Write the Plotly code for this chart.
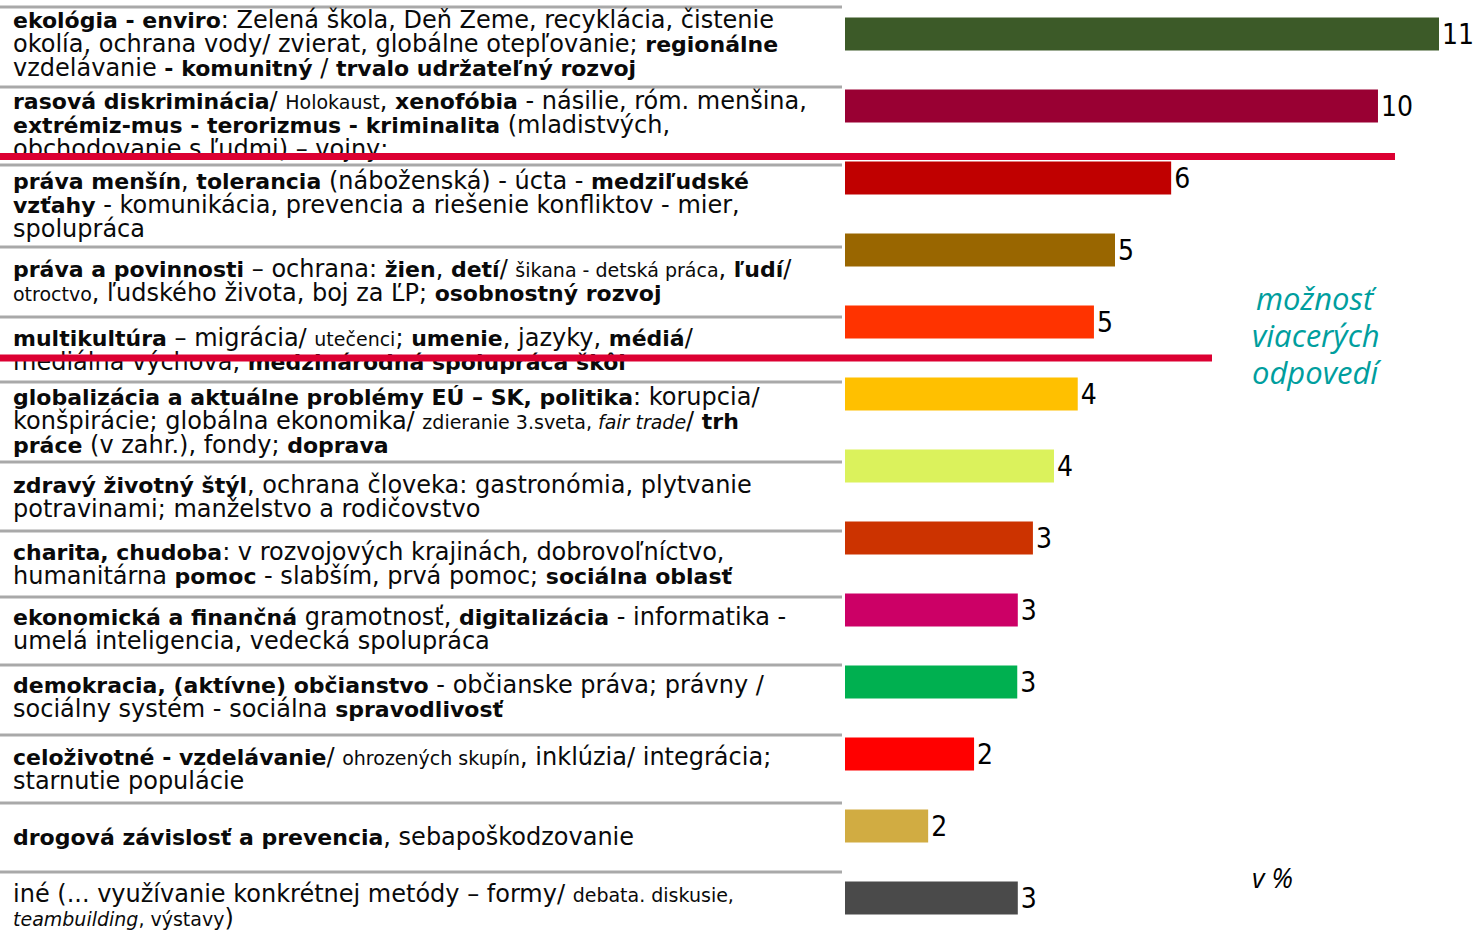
import re
import plotly.graph_objects as go

W, H = 1473, 932

# ---- data -------------------------------------------------------------
categories = [
    "ekológia - enviro",
    "rasová diskriminácia",
    "práva menšín, tolerancia",
    "práva a povinnosti",
    "multikultúra",
    "globalizácia a aktuálne problémy EÚ - SK",
    "zdravý životný štýl",
    "charita, chudoba",
    "ekonomická a finančná gramotnosť",
    "demokracia, (aktívne) občianstvo",
    "celoživotné vzdelávanie",
    "drogová závislosť a prevencia",
    "iné",
]

values = [11.0, 9.87, 6.04, 5.0, 4.61, 4.31, 3.87, 3.48, 3.2, 3.19, 2.39, 1.54, 3.2]

bar_colors = [
    "#3C5A28", "#990033", "#C00000", "#996600", "#FF3300", "#FFC000", "#DBF25C",
    "#CC3300", "#CC0066", "#00B050", "#FF0000", "#D1AC42", "#4A4A4A",
]

# {...} marks the smaller-print parts of a label
label_lines = [
    ["<b>ekológia - enviro</b>: Zelená škola, Deň Zeme, recyklácia, čistenie",
     "okolía, ochrana vody/ zvierat, globálne otepľovanie; <b>regionálne</b>",
     "vzdelávanie <b>- komunitný</b> / <b>trvalo udržateľný rozvoj</b>"],
    ["<b>rasová diskriminácia</b>/ {Holokaust}, <b>xenofóbia</b> - násilie, róm. menšina,",
     "<b>extrémiz-mus - terorizmus - kriminalita</b> (mladistvých,",
     "obchodovanie s ľudmi) – vojny;"],
    ["<b>práva menšín</b>, <b>tolerancia</b> (náboženská) - úcta - <b>medziľudské</b>",
     "<b>vzťahy</b> - komunikácia, prevencia a riešenie konfliktov - mier,",
     "spolupráca"],
    ["<b>práva a povinnosti</b> – ochrana: <b>žien</b>, <b>detí</b>/ {šikana - detská práca}, <b>ľudí</b>/",
     "{otroctvo}, ľudského života, boj za ĽP; <b>osobnostný rozvoj</b>"],
    ["<b>multikultúra</b> – migrácia/ {utečenci}; <b>umenie</b>, jazyky, <b>médiá</b>/",
     "mediálna výchova, <b>medzinárodná spolupráca škôl</b>"],
    ["<b>globalizácia a aktuálne problémy EÚ – SK, politika</b>: korupcia/",
     "konšpirácie; globálna ekonomika/ {zdieranie 3.sveta, <i>fair trade</i>}/ <b>trh</b>",
     "<b>práce</b> (v zahr.), fondy; <b>doprava</b>"],
    ["<b>zdravý životný štýl</b>, ochrana človeka: gastronómia, plytvanie",
     "potravinami; manželstvo a rodičovstvo"],
    ["<b>charita, chudoba</b>: v rozvojových krajinách, dobrovoľníctvo,",
     "humanitárna <b>pomoc</b> - slabším, prvá pomoc; <b>sociálna oblasť</b>"],
    ["<b>ekonomická a finančná</b> gramotnosť, <b>digitalizácia</b> - informatika -",
     "umelá inteligencia, vedecká spolupráca"],
    ["<b>demokracia, (aktívne) občianstvo</b> - občianske práva; právny /",
     "sociálny systém - sociálna <b>spravodlivosť</b>"],
    ["<b>celoživotné - vzdelávanie</b>/ {ohrozených skupín}, inklúzia/ integrácia;",
     "starnutie populácie"],
    ["<b>drogová závislosť a prevencia</b>, sebapoškodzovanie"],
    ["iné (... využívanie konkrétnej metódy – formy/ {debata. diskusie,}",
     "{<i>teambuilding</i>, výstavy})"],
]

note_lines = ["možnosť", "viacerých", "odpovedí"]
unit_label = "v %"

# ---- layout constants (pixels) ----------------------------------------
BAR_LEFT = 845
PX_PER_UNIT = 54.0
X_MAX = 11.5
FIRST_ROW_CENTER = 34
ROW_STEP = 72
LINE_STEP = 24
TEXT_X = 13
TEXT_FONT = "DejaVu Sans, sans-serif"
TEXT_SIZE = 24
BOLD_SIZE = 22
SMALL_SIZE = 19
NUM_FONT = "Liberation Sans Narrow, DejaVu Sans Condensed, sans-serif"
NOTE_FONT = "Open Sans, Lato, sans-serif"

row_first_center = [22, 103, 183, 271, 340, 399, 487, 554, 619, 687, 759, 839, 896]
separator_y = [7, 87, 165, 247, 317, 382, 462, 531, 597, 665, 735, 803, 872]


def styled(line):
    line = re.sub(r"\{(.*?)\}",
                  lambda m: f'<span style="font-size:{SMALL_SIZE}px">{m.group(1)}</span>',
                  line)
    line = re.sub(r"<b>(.*?)</b>",
                  lambda m: f'<b><span style="font-size:{BOLD_SIZE}px">{m.group(1)}</span></b>',
                  line)
    return line


text_x, text_y, text_s = [], [], []
for center, lines in zip(row_first_center, label_lines):
    for k, line in enumerate(lines):
        text_x.append(TEXT_X)
        text_y.append(center + k * LINE_STEP)
        text_s.append(styled(line))

fig = go.Figure()

fig.add_trace(go.Bar(
    x=values,
    y=categories,
    orientation="h",
    width=0.46,
    marker=dict(color=bar_colors, line=dict(width=0)),
    texttemplate="%{x:.0f}",
    textposition="outside",
    cliponaxis=False,
    constraintext="none",
    textfont=dict(family=NUM_FONT, size=28, color="#000000"),
    hoverinfo="skip",
))

fig.add_trace(go.Scatter(
    x=text_x,
    y=text_y,
    text=text_s,
    mode="text",
    textposition="middle right",
    textfont=dict(family=TEXT_FONT, size=TEXT_SIZE, color="#0a0a0a"),
    xaxis="x2",
    yaxis="y2",
    cliponaxis=False,
    hoverinfo="skip",
))

shapes = []
for sy in separator_y:
    shapes.append(dict(type="line", xref="x2", yref="y2", x0=0, x1=842, y0=sy, y1=sy,
                       line=dict(color="#A9A9A9", width=3), layer="below"))

# red strike lines over the table
for x1, sy in [(1395, 156.5), (1212, 358)]:
    shapes.append(dict(type="line", xref="x2", yref="y2", x0=0, x1=x1, y0=sy, y1=sy,
                       line=dict(color="#DC0032", width=7), layer="above"))

annotations = []
for k, word in enumerate(note_lines):
    annotations.append(dict(
        xref="x2", yref="y2", x=1316, y=298 + 37 * k, showarrow=False,
        text=f"<i>{word}</i>", xanchor="center", yanchor="middle",
        font=dict(family=NOTE_FONT, size=31, color="#009E9E")))
annotations.append(dict(
    xref="x2", yref="y2", x=1272, y=877, showarrow=False,
    text=f"<i>{unit_label}</i>",
    font=dict(family=NOTE_FONT, size=27, color="#000000")))

fig.update_layout(
    width=W, height=H, autosize=False,
    margin=dict(l=0, r=0, t=0, b=0, pad=0),
    paper_bgcolor="white",
    plot_bgcolor="rgba(0,0,0,0)",
    showlegend=False,
    xaxis=dict(domain=[BAR_LEFT / W, (BAR_LEFT + X_MAX * PX_PER_UNIT) / W],
               range=[0, X_MAX], visible=False, fixedrange=True),
    yaxis=dict(domain=[0, 1], type="category", categoryarray=categories,
               range=[(H - FIRST_ROW_CENTER) / ROW_STEP, -FIRST_ROW_CENTER / ROW_STEP],
               visible=False, fixedrange=True),
    xaxis2=dict(domain=[0, 1], range=[0, W], anchor="y2", visible=False, fixedrange=True),
    yaxis2=dict(domain=[0, 1], range=[H, 0], anchor="x2", visible=False, fixedrange=True),
    shapes=shapes,
    annotations=annotations,
)

fig.write_html("out.html")
